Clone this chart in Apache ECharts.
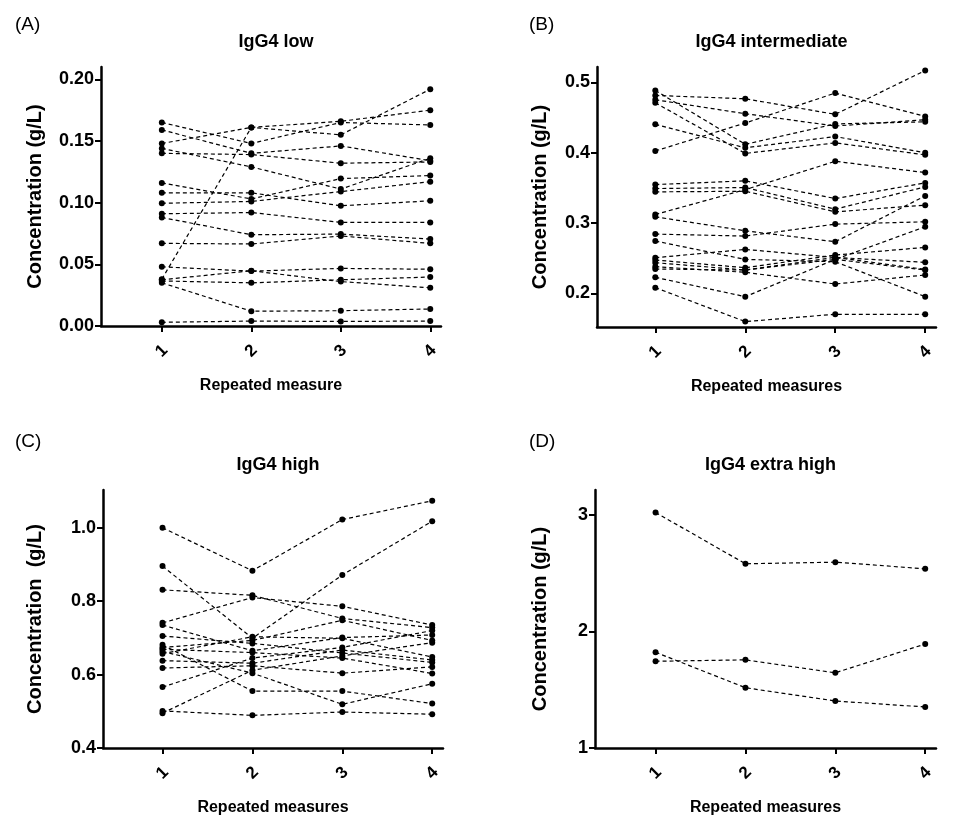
<!DOCTYPE html>
<html>
<head>
<meta charset="utf-8">
<script src="https://cdn.jsdelivr.net/npm/echarts@6/dist/echarts.min.js"></script>
<style>
html,body{margin:0;padding:0;background:#fff;}
#chart{width:977px;height:817px;}
</style>
</head>
<body>
<div id="chart"></div>
<script>
// ---- Data ----
const repeatedMeasures = [1, 2, 3, 4];
const xTickLabels = ['1', '2', '3', '4'];

// (A) IgG4 low: each row = one subject across measures 1..4 (g/L)
const lowLines = [
  [0.165, 0.148, 0.165, 0.163],
  [0.159, 0.140, 0.146, 0.134],
  [0.148, 0.161, 0.166, 0.175],
  [0.144, 0.129, 0.111, 0.136],
  [0.140, 0.139, 0.132, 0.133],
  [0.116, 0.103, 0.1195, 0.122],
  [0.108, 0.108, 0.0975, 0.1015],
  [0.0995, 0.101, 0.109, 0.117],
  [0.091, 0.092, 0.084, 0.084],
  [0.088, 0.074, 0.0745, 0.0705],
  [0.067, 0.0665, 0.073, 0.067],
  [0.048, 0.0445, 0.0467, 0.046],
  [0.038, 0.161, 0.155, 0.192],
  [0.0375, 0.0448, 0.036, 0.031],
  [0.0365, 0.035, 0.0375, 0.0397],
  [0.035, 0.012, 0.0124, 0.0138],
  [0.003, 0.004, 0.0037, 0.004]
];
const lowTicks = [0, 0.05, 0.10, 0.15, 0.20];

// (B) IgG4 intermediate
const intermediateLines = [
  [0.4886, 0.412, 0.441, 0.444],
  [0.4815, 0.4768, 0.4546, 0.517],
  [0.4754, 0.4555, 0.438, 0.447],
  [0.4711, 0.399, 0.414, 0.397],
  [0.4404, 0.407, 0.423, 0.400],
  [0.4025, 0.4423, 0.4849, 0.4517],
  [0.3547, 0.360, 0.3348, 0.3571],
  [0.349, 0.3505, 0.3197, 0.3514],
  [0.3443, 0.3452, 0.3159, 0.3254],
  [0.3121, 0.3475, 0.3878, 0.3717],
  [0.2842, 0.2814, 0.2984, 0.3017],
  [0.3088, 0.2889, 0.2733, 0.3386],
  [0.2743, 0.2482, 0.2449, 0.1952],
  [0.2506, 0.2624, 0.251, 0.244],
  [0.2473, 0.2364, 0.2544, 0.2653],
  [0.2435, 0.2331, 0.2482, 0.2946],
  [0.2378, 0.2298, 0.2132, 0.226],
  [0.2345, 0.2331, 0.251, 0.234],
  [0.2227, 0.1952, 0.2482, 0.2331],
  [0.208, 0.1597, 0.1701, 0.1701]
];
const intermediateTicks = [0.2, 0.3, 0.4, 0.5];

// (C) IgG4 high
const highLines = [
  [1.0, 0.883, 1.0225, 1.0737],
  [0.8957, 0.699, 0.8715, 1.018],
  [0.831, 0.816, 0.753, 0.728],
  [0.741, 0.81, 0.786, 0.735],
  [0.735, 0.665, 0.701, 0.708],
  [0.705, 0.685, 0.659, 0.633],
  [0.681, 0.555, 0.555, 0.521],
  [0.663, 0.604, 0.519, 0.575],
  [0.501, 0.489, 0.498, 0.492],
  [0.495, 0.612, 0.651, 0.687],
  [0.566, 0.645, 0.674, 0.72],
  [0.674, 0.693, 0.748, 0.693],
  [0.657, 0.703, 0.699, 0.648],
  [0.638, 0.631, 0.667, 0.640],
  [0.618, 0.624, 0.604, 0.621],
  [0.669, 0.66, 0.645, 0.603]
];
const highTicks = [0.4, 0.6, 0.8, 1.0];

// (D) IgG4 extra high
const extraHighLines = [
  [3.02, 2.58, 2.594, 2.537],
  [1.744, 1.756, 1.645, 1.892],
  [1.821, 1.517, 1.403, 1.352]
];
const extraHighTicks = [1, 2, 3];

const panelTitles = ['IgG4 low', 'IgG4 intermediate', 'IgG4 high', 'IgG4 extra high'];
const panelLetters = ['(A)', '(B)', '(C)', '(D)'];
const xAxisNames = ['Repeated measure', 'Repeated measures', 'Repeated measures', 'Repeated measures'];
const yAxisNames = ['Concentration (g/L)', 'Concentration (g/L)', 'Concentration  (g/L)', 'Concentration (g/L)'];

// ---- Layout / style ----
const FONT = '"Liberation Sans", Arial, sans-serif';
const panels = [
  {lines: lowLines, ticks: lowTicks, dec: 2, ymin: 0, ymax: 0.21, xmin: 0.32, nameGap: 56, grid: {left: 101, top: 67, width: 340, height: 259}},
  {lines: intermediateLines, ticks: intermediateTicks, dec: 1, ymin: 0.152, ymax: 0.522, xmin: 0.352, nameGap: 47, grid: {left: 597, top: 67, width: 339, height: 260}},
  {lines: highLines, ticks: highTicks, dec: 1, ymin: 0.4, ymax: 1.103, xmin: 0.338, nameGap: 58, grid: {left: 103, top: 490, width: 340, height: 261}},
  {lines: extraHighLines, ticks: extraHighTicks, dec: 0, ymin: 1, ymax: 3.213, xmin: 0.326, nameGap: 45, grid: {left: 595, top: 490, width: 341, height: 260}}
];

const grids = [], xAxes = [], yAxes = [], series = [], titles = [];
const axisLine = {show: true, lineStyle: {color: '#000', width: 2.5}};
const axisTickStyle = {lineStyle: {color: '#000', width: 2}};

panels.forEach((p, i) => {
  grids.push(p.grid);
  xAxes.push({
    type: 'value', gridIndex: i, min: p.xmin, max: 4.12,
    axisLine: axisLine,
    axisTick: Object.assign({show: true, length: 6, customValues: repeatedMeasures}, axisTickStyle),
    axisLabel: {
      customValues: repeatedMeasures, rotate: 45, margin: 25,
      align: 'center', verticalAlign: 'middle',
      formatter: v => xTickLabels[repeatedMeasures.indexOf(v)],
      color: '#000', fontFamily: FONT, fontWeight: 'bold', fontSize: 17
    },
    splitLine: {show: false},
    name: xAxisNames[i], nameLocation: 'middle', nameGap: 52,
    nameTextStyle: {color: '#000', fontFamily: FONT, fontWeight: 'bold', fontSize: 16}
  });
  yAxes.push({
    type: 'value', gridIndex: i, min: p.ymin, max: p.ymax,
    axisLine: axisLine,
    axisTick: Object.assign({show: true, length: 6, customValues: p.ticks}, axisTickStyle),
    axisLabel: {
      customValues: p.ticks, margin: 7,
      formatter: v => v.toFixed(p.dec),
      color: '#000', fontFamily: FONT, fontWeight: 'bold', fontSize: 18
    },
    splitLine: {show: false},
    name: yAxisNames[i], nameLocation: 'middle', nameRotate: 90,
    nameGap: p.nameGap,
    nameTextStyle: {color: '#000', fontFamily: FONT, fontWeight: 'bold', fontSize: 20}
  });
  p.lines.forEach(vals => {
    series.push({
      type: 'line', xAxisIndex: i, yAxisIndex: i,
      data: repeatedMeasures.map((x, k) => [x, vals[k]]),
      symbol: 'circle', symbolSize: 6,
      itemStyle: {color: '#000'},
      lineStyle: {color: '#000', width: 1.2, type: [4, 3]},
      silent: true, animation: false
    });
  });
  const cx = p.grid.left + p.grid.width * 0.5;
  titles.push({
    text: panelTitles[i], left: cx, top: (i < 2 ? 28 : 451), textAlign: 'center',
    textStyle: {color: '#000', fontFamily: FONT, fontWeight: 'bold', fontSize: 18}
  });
  titles.push({
    text: panelLetters[i], left: (i % 2 === 0 ? 10 : 524), top: (i < 2 ? 10 : 427),
    textStyle: {color: '#000', fontFamily: FONT, fontWeight: 'normal', fontSize: 19}
  });
});

const chart = echarts.init(document.getElementById('chart'), null, {renderer: 'canvas'});
chart.setOption({
  backgroundColor: '#fff',
  animation: false,
  title: titles,
  grid: grids,
  xAxis: xAxes,
  yAxis: yAxes,
  series: series
});
</script>
</body>
</html>
